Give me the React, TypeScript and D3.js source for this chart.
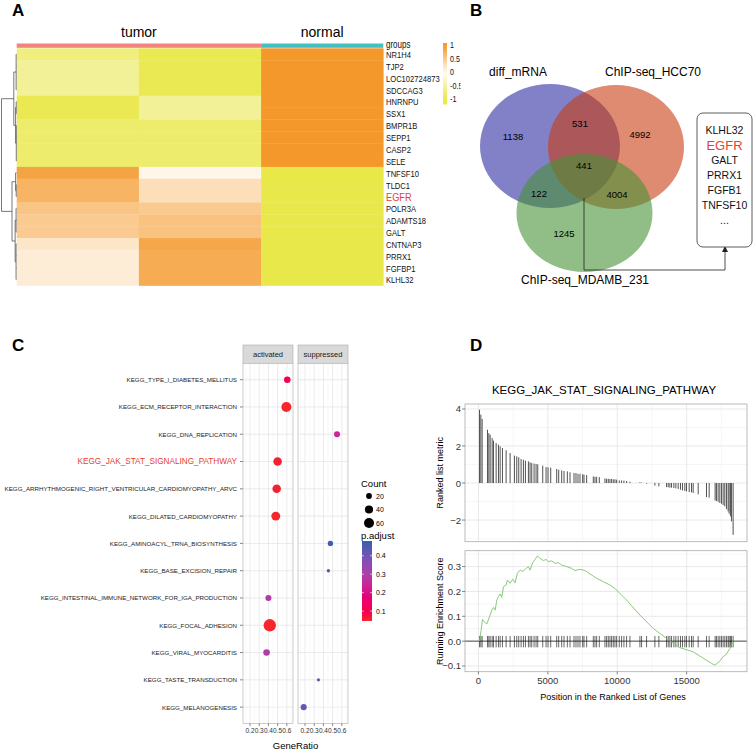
import React from 'react';
import * as d3 from 'd3';

const SANS = "'Liberation Sans', Arial, Helvetica, sans-serif";

// ---- panel A: heatmap ----
const heatGenes = ['NR1H4', 'TJP2', 'LOC102724873', 'SDCCAG3', 'HNRNPU', 'SSX1', 'BMPR1B', 'SEPP1', 'CASP2', 'SELE',
  'TNFSF10', 'TLDC1', 'EGFR', 'POLR3A', 'ADAMTS18', 'GALT', 'CNTNAP3', 'PRRX1', 'FGFBP1', 'KLHL32'];
const tumorA = [-0.7, -0.55, -0.55, -0.55, -0.95, -0.95, -0.8, -0.8, -0.8, -0.8, 0.88, 0.72, 0.72, 0.55, 0.5, 0.5, 0.22, 0.15, 0.15, 0.15];
const tumorB = [-0.95, -0.95, -0.95, -0.95, -0.55, -0.55, -0.8, -0.8, -0.8, -0.8, 0.06, 0.3, 0.3, 0.5, 0.58, 0.58, 0.85, 0.8, 0.8, 0.8];
const normalV = [1, 1, 1, 1, 1, 1, 1, 1, 1, 1, -1, -1, -1, -1, -1, -1, -1, -1, -1, -1];
const heatColumns = [tumorA, tumorB, normalV];
const heatGroups = ['tumor', 'tumor', 'normal'];
const heatLegendTicks = [1, 0.5, 0, -0.5, -1];

type TreeNode = { h: number; kids?: TreeNode[]; gene?: string };
const leaf = (g: string): TreeNode => ({ h: 0, gene: g });
const rowTree: TreeNode = {
  h: 10, kids: [
    { h: 1.8, kids: [
      { h: 0.25, kids: ['NR1H4', 'TJP2', 'LOC102724873', 'SDCCAG3'].map(leaf) },
      { h: 0.6, kids: [
        { h: 0.2, kids: ['HNRNPU', 'SSX1'].map(leaf) },
        { h: 0.15, kids: ['BMPR1B', 'SEPP1', 'CASP2', 'SELE'].map(leaf) },
      ] },
    ] },
    { h: 3, kids: [
      { h: 0.6, kids: [leaf('TNFSF10'), { h: 0.2, kids: ['TLDC1', 'EGFR'].map(leaf) }] },
      { h: 0.9, kids: [
        { h: 0.3, kids: ['POLR3A', 'ADAMTS18', 'GALT'].map(leaf) },
        { h: 0.3, kids: ['CNTNAP3', 'PRRX1', 'FGFBP1', 'KLHL32'].map(leaf) },
      ] },
    ] },
  ],
};

// ---- panel B: venn ----
const vennSets = ['diff_mRNA', 'ChIP-seq_HCC70', 'ChIP-seq_MDAMB_231'];
const vennCounts = [1138, 531, 4992, 441, 122, 4004, 1245];
const boxGenes = ['KLHL32', 'EGFR', 'GALT', 'PRRX1', 'FGFB1', 'TNFSF10', '...'];

// ---- panel C: dot plot ----
const pathways = ['KEGG_TYPE_I_DIABETES_MELLITUS', 'KEGG_ECM_RECEPTOR_INTERACTION', 'KEGG_DNA_REPLICATION',
  'KEGG_JAK_STAT_SIGNALING_PATHWAY', 'KEGG_ARRHYTHMOGENIC_RIGHT_VENTRICULAR_CARDIOMYOPATHY_ARVC',
  'KEGG_DILATED_CARDIOMYOPATHY', 'KEGG_AMINOACYL_TRNA_BIOSYNTHESIS', 'KEGG_BASE_EXCISION_REPAIR',
  'KEGG_INTESTINAL_IMMUNE_NETWORK_FOR_IGA_PRODUCTION', 'KEGG_FOCAL_ADHESION', 'KEGG_VIRAL_MYOCARDITIS',
  'KEGG_TASTE_TRANSDUCTION', 'KEGG_MELANOGENESIS'];
const pathwayGroup = ['activated', 'activated', 'suppressed', 'activated', 'activated', 'activated', 'suppressed',
  'suppressed', 'activated', 'activated', 'activated', 'suppressed', 'suppressed'];
const geneRatio = [0.605, 0.595, 0.548, 0.5, 0.49, 0.48, 0.476, 0.454, 0.4, 0.415, 0.38, 0.346, 0.186];
const geneCount = [26, 60, 22, 44, 44, 48, 17, 7, 22, 92, 26, 7, 22];
const pAdjust = [0.12, 0.05, 0.25, 0.06, 0.06, 0.05, 0.47, 0.45, 0.29, 0.05, 0.3, 0.38, 0.41];
const facets = ['activated', 'suppressed'];
const ratioTicks = [0.2, 0.3, 0.4, 0.5, 0.6];
const countBreaks = [20, 40, 60];
const padjBreaks = [0.1, 0.2, 0.3, 0.4];

// ---- panel D: GSEA ----
const hitPos = [74, 170, 266, 650, 746, 842, 986, 1082, 1273, 1441, 1561, 1729, 1993, 2280, 2592, 2760, 2904, 3072,
  3239, 3383, 3599, 3719, 3839, 4007, 4151, 4271, 4631, 4870, 5014, 5206, 5638, 5782, 5997, 6165, 6405, 6597, 6884,
  7028, 7172, 7316, 7508, 7604, 7796, 8275, 8395, 8515, 8707, 9115, 9235, 9355, 9475, 9595, 9715, 9835, 9955, 10146,
  10314, 10482, 10674, 10914, 11634, 11754, 12114, 12713, 13001, 13553, 13673, 13793, 13913, 14080, 14224, 14392,
  14560, 14704, 14872, 14992, 15184, 15352, 15472, 15832, 16431, 16623, 17054, 17150, 17270, 17390, 17510, 17630,
  17750, 17870, 17990, 18062, 18158, 18230, 18350];
const hitMetric = [3.96, 3.7, 3.46, 2.88, 2.7, 2.61, 2.43, 2.29, 2.16, 2.07, 1.98, 1.89, 1.77, 1.62, 1.48, 1.44, 1.39,
  1.3, 1.26, 1.21, 1.17, 1.12, 1.08, 1.05, 1.03, 1.01, 0.94, 0.86, 0.85, 0.83, 0.76, 0.72, 0.68, 0.65, 0.63, 0.58, 0.54,
  0.54, 0.5, 0.5, 0.47, 0.45, 0.43, 0.36, 0.34, 0.34, 0.32, 0.25, 0.23, 0.23, 0.22, 0.22, 0.2, 0.2, 0.18, 0.14, 0.14,
  0.13, 0.11, 0.07, 0.04, 0.02, -0.04, -0.14, -0.18, -0.22, -0.23, -0.25, -0.25, -0.27, -0.29, -0.32, -0.36, -0.4,
  -0.43, -0.45, -0.49, -0.5, -0.54, -0.61, -0.76, -0.79, -0.94, -0.97, -1.01, -1.08, -1.12, -1.19, -1.26, -1.41,
  -1.53, -1.66, -1.8, -2.07, -2.8];
const esPos = [74, 194, 290, 410, 602, 794, 962, 1082, 1201, 1321, 1441, 1561, 1681, 1801, 1993, 2089, 2280, 2472,
  2640, 2808, 3000, 3192, 3359, 3599, 3719, 3911, 4079, 4247, 4438, 4678, 4870, 5038, 5278, 5518, 5757, 5997, 6357,
  6717, 6956, 7316, 7556, 7796, 8156, 8515, 8995, 9475, 9835, 10674, 11633, 12593, 13552, 14511, 15470, 16430, 17029,
  17341, 17629, 17869, 18109, 18349];
const esVal = [0, 0.044, 0.087, 0.078, 0.069, 0.098, 0.125, 0.136, 0.125, 0.165, 0.179, 0.19, 0.176, 0.219, 0.226,
  0.246, 0.233, 0.249, 0.235, 0.273, 0.286, 0.28, 0.289, 0.3, 0.286, 0.316, 0.329, 0.343, 0.333, 0.324, 0.329, 0.32,
  0.323, 0.313, 0.316, 0.306, 0.3, 0.293, 0.284, 0.289, 0.286, 0.28, 0.266, 0.253, 0.239, 0.226, 0.212, 0.165, 0.105,
  0.051, 0.011, -0.026, -0.043, -0.077, -0.097, -0.083, -0.063, -0.052, -0.03, 0.004];
const posTicks = [0, 5000, 10000, 15000];
const metricTicks = [-2, 0, 2, 4];
const esTicks = [-0.1, 0, 0.1, 0.2, 0.3];

const PanelLabel = ({ x, y, t }: { x: number; y: number; t: string }) => (
  <text x={x} y={y} fontSize={17} fontWeight="bold" fontFamily={SANS}>{t}</text>
);

// condensed text (no narrow font installed, so squeeze horizontally)
const Narrow = ({ x, y, size, fill, children }: { x: number; y: number; size: number; fill?: string; children: any }) => (
  <text transform={`translate(${x},${y}) scale(0.8,1)`} dominantBaseline="central" fontSize={size}
    fill={fill ?? '#111'} fontFamily={SANS}>{children}</text>
);

function PanelA() {
  const x = d3.scaleBand<number>().domain(d3.range(heatColumns.length)).range([16.7, 383.3]);
  const y = d3.scaleBand<string>().domain(heatGenes).range([48.3, 285.5]);
  const color = d3.scaleLinear<string>().domain([-1, 0, 1]).range(['#E9E84A', '#FFFCF4', '#F4982B']).clamp(true);
  const hx = d3.scaleLinear().domain([rowTree.h, 0]).range([1.5, 16.5]);

  const root = d3.hierarchy<TreeNode>(rowTree, (d) => d.kids);
  const ny = new Map<any, number>();
  root.eachAfter((n) => {
    if (!n.children) ny.set(n, (y(n.data.gene!) ?? 0) + y.bandwidth() / 2);
    else {
      const ys = n.children.map((c) => ny.get(c)!);
      ny.set(n, (d3.min(ys)! + d3.max(ys)!) / 2);
    }
  });
  const treeLines: string[] = [];
  root.each((n) => {
    if (!n.children) return;
    const xx = hx(n.data.h);
    const ys = n.children.map((c) => ny.get(c)!);
    treeLines.push(`M${xx},${d3.min(ys)}V${d3.max(ys)}`);
    n.children.forEach((c) => treeLines.push(`M${xx},${ny.get(c)}H${hx(c.data.h)}`));
  });

  const groupSpans = d3.groups(d3.range(heatGroups.length), (i) => heatGroups[i]).map(([g, idx]) => ({
    g, x0: x(idx[0])!, x1: x(idx[idx.length - 1])! + x.bandwidth(),
  }));
  const groupColor: Record<string, string> = { tumor: '#F2847E', normal: '#44C0C2' };

  const ly = d3.scaleLinear().domain([1, -1]).range([45.5, 99.5]);
  const legTop = 43, legBot = 104.5;

  return (
    <g clipPath="url(#clipA)">
      <defs>
        <clipPath id="clipA"><rect x={0} y={0} width={460.5} height={330} /></clipPath>
        <linearGradient id="heatLeg" x1="0" y1="0" x2="0" y2="1">
          {d3.range(0, 1.0001, 0.1).map((t) => (
            <stop key={t} offset={t} stopColor={color(ly.invert(legTop + t * (legBot - legTop)))} />
          ))}
        </linearGradient>
      </defs>
      <PanelLabel x={12} y={16} t="A" />
      {groupSpans.map((s) => (
        <g key={s.g}>
          <text x={(s.x0 + s.x1) / 2} y={37} textAnchor="middle" fontSize={14} fontFamily={SANS}>{s.g}</text>
          <rect x={s.x0} y={43.5} width={s.x1 - s.x0} height={4.3} fill={groupColor[s.g]} />
        </g>
      ))}
      {heatColumns.map((col, ci) =>
        col.map((v, ri) => (
          <rect key={`${ci}-${ri}`} x={x(ci)} y={y(heatGenes[ri])} width={x.bandwidth() + 0.3}
            height={y.bandwidth() + 0.3} fill={color(v)} />
        ))
      )}
      <Narrow x={386} y={45} size={10}>groups</Narrow>
      {heatGenes.map((g) => (
        <Narrow key={g} x={386} y={y(g)! + y.bandwidth() / 2 + 0.5} size={g === 'EGFR' ? 11.5 : 9.5}
          fill={g === 'EGFR' ? '#E8412F' : '#111'}>{g}</Narrow>
      ))}
      <path d={treeLines.join('')} stroke="#555" strokeWidth={0.8} fill="none" />
      <rect x={443} y={legTop} width={4} height={legBot - legTop} fill="url(#heatLeg)" />
      {heatLegendTicks.map((t) => (
        <Narrow key={t} x={450} y={ly(t)} size={9}>{t}</Narrow>
      ))}
    </g>
  );
}

function PanelB() {
  const ell = [
    { cx: 550, cy: 146, rx: 70, ry: 62, fill: 'rgb(46,44,160)' },
    { cx: 616, cy: 147, rx: 68, ry: 62, fill: 'rgb(200,62,20)' },
    { cx: 584.5, cy: 213, rx: 68, ry: 59, fill: 'rgb(70,146,54)' },
  ];
  const setLabelPos = [[518, 72], [653, 72], [585, 280]];
  const countPos = [[513, 136], [580, 123], [640, 134], [584, 165], [539, 193], [617, 194], [564, 233]];
  const box = { x: 697, y: 113, w: 55, h: 134 };
  const ty = d3.scalePoint<number>().domain(d3.range(boxGenes.length)).range([130, 220]);
  return (
    <g fontFamily={SANS}>
      <PanelLabel x={470} y={16} t="B" />
      {ell.map((e, i) => (
        <ellipse key={i} cx={e.cx} cy={e.cy} rx={e.rx} ry={e.ry} fill={e.fill} fillOpacity={0.6} />
      ))}
      {vennSets.map((s, i) => (
        <text key={s} x={setLabelPos[i][0]} y={setLabelPos[i][1]} textAnchor="middle" dominantBaseline="central" fontSize={12}>{s}</text>
      ))}
      {vennCounts.map((c, i) => (
        <text key={i} x={countPos[i][0]} y={countPos[i][1]} textAnchor="middle" dominantBaseline="central" fontSize={9.5}>{c}</text>
      ))}
      <path d="M584,198V270H725V251" fill="none" stroke="#222" strokeWidth={0.8} />
      <path d="M722,252L725,246L728,252Z" fill="#222" />
      <rect x={box.x} y={box.y} width={box.w} height={box.h} rx={6} fill="#fff" stroke="#333" strokeWidth={0.8} />
      {boxGenes.map((g, i) => (
        <text key={g} x={box.x + box.w / 2} y={ty(i)} textAnchor="middle" dominantBaseline="central"
          fontSize={g === 'EGFR' ? 13 : 10.5} fill={g === 'EGFR' ? '#E8412F' : '#111'}>{g}</text>
      ))}
    </g>
  );
}

function PanelC() {
  const y = d3.scalePoint<string>().domain(pathways).range([363.3, 723.5]).padding(0.6);
  const facetX: Record<string, [number, number]> = { activated: [243, 293], suppressed: [298, 348] };
  const mkX = (f: string) => d3.scaleLinear().domain([0.124, 0.667]).range(facetX[f]);
  const r = d3.scaleSqrt().domain([0, 70]).range([0, 5.4]);
  const col = d3.scaleLinear<string>().domain([0.046, 0.48]).range(['#F52A2A', '#3A5CAC']).interpolate(d3.interpolateHcl);
  const minor = d3.range(0.15, 0.67, 0.1);
  const cb = { x: 362, y0: 541, y1: 621 };
  const cby = d3.scaleLinear().domain([0.046, 0.48]).range([cb.y1, cb.y0]);
  return (
    <g fontFamily={SANS}>
      <PanelLabel x={12} y={351} t="C" />
      <defs>
        <linearGradient id="padjLeg" x1="0" y1="1" x2="0" y2="0">
          {d3.range(0, 1.0001, 0.1).map((t) => (
            <stop key={t} offset={t} stopColor={col(0.046 + t * (0.48 - 0.046))} />
          ))}
        </linearGradient>
      </defs>
      {pathways.map((p) => (
        <g key={p}>
          <text x={237} y={y(p)} textAnchor="end" dominantBaseline="central"
            fontSize={p === 'KEGG_JAK_STAT_SIGNALING_PATHWAY' ? 8.2 : 6.2}
            fill={p === 'KEGG_JAK_STAT_SIGNALING_PATHWAY' ? '#E8412F' : '#222'}>{p}</text>
          <line x1={240} x2={243} y1={y(p)} y2={y(p)} stroke="#333" strokeWidth={0.6} />
        </g>
      ))}
      {facets.map((f) => {
        const x = mkX(f);
        const [x0, x1] = facetX[f];
        return (
          <g key={f}>
            <rect x={x0} y={345} width={x1 - x0} height={18.3} fill="#D9D9D9" stroke="#AAA" strokeWidth={0.6} />
            <text x={(x0 + x1) / 2} y={354.2} textAnchor="middle" dominantBaseline="central" fontSize={7.5} fill="#1A1A1A">{f}</text>
            <rect x={x0} y={363.3} width={x1 - x0} height={360.2} fill="#fff" />
            {minor.map((m) => (
              <line key={m} x1={x(m)} x2={x(m)} y1={363.3} y2={723.5} stroke="#F2F2F2" strokeWidth={0.5} />
            ))}
            {ratioTicks.map((t) => (
              <line key={t} x1={x(t)} x2={x(t)} y1={363.3} y2={723.5} stroke="#E3E3E3" strokeWidth={0.7} />
            ))}
            {pathways.map((p) => (
              <line key={p} x1={x0} x2={x1} y1={y(p)} y2={y(p)} stroke="#E3E3E3" strokeWidth={0.7} />
            ))}
            {pathways.map((p, i) => pathwayGroup[i] === f ? (
              <circle key={p} cx={x(geneRatio[i])} cy={y(p)} r={r(geneCount[i])} fill={col(pAdjust[i])} />
            ) : null)}
            <rect x={x0} y={363.3} width={x1 - x0} height={360.2} fill="none" stroke="#AAA" strokeWidth={0.6} />
            {ratioTicks.map((t) => (
              <g key={t}>
                <line x1={x(t)} x2={x(t)} y1={723.5} y2={726} stroke="#333" strokeWidth={0.6} />
                <text x={x(t)} y={730.5} textAnchor="middle" dominantBaseline="central" fontSize={6.5} fill="#333">{t}</text>
              </g>
            ))}
          </g>
        );
      })}
      <text x={295.5} y={745.5} textAnchor="middle" dominantBaseline="central" fontSize={9.5}>GeneRatio</text>
      <text x={361} y={483} dominantBaseline="central" fontSize={9.5}>Count</text>
      {countBreaks.map((c, i) => (
        <g key={c}>
          <circle cx={369} cy={496 + i * 13.5} r={r(c)} fill="#000" />
          <text x={376} y={496 + i * 13.5} dominantBaseline="central" fontSize={7}>{c}</text>
        </g>
      ))}
      <text x={361} y={535} dominantBaseline="central" fontSize={9.5}>p.adjust</text>
      <rect x={cb.x} y={cb.y0} width={10} height={cb.y1 - cb.y0} fill="url(#padjLeg)" />
      {padjBreaks.map((b) => (
        <g key={b}>
          <line x1={cb.x} x2={cb.x + 2} y1={cby(b)} y2={cby(b)} stroke="#fff" strokeWidth={0.6} />
          <line x1={cb.x + 8} x2={cb.x + 10} y1={cby(b)} y2={cby(b)} stroke="#fff" strokeWidth={0.6} />
          <text x={376} y={cby(b)} dominantBaseline="central" fontSize={7}>{b}</text>
        </g>
      ))}
    </g>
  );
}

function PanelD() {
  const x = d3.scaleLinear().domain([-970, 19350]).range([465, 747]);
  const yTop = d3.scaleLinear().domain([-3.17, 4.27]).range([541.7, 404]);
  const yBot = d3.scaleLinear().domain([-0.123, 0.364]).range([671.7, 550.7]);
  const xMinor = [2500, 7500, 12500, 17500];
  const fmt = d3.format('.1f');
  const esLine = d3.line<number>().x((_, i) => x(esPos[i])).y((v) => yBot(v));
  const grid = (yS: d3.ScaleLinear<number, number>, major: number[], minorT: number[]) => (
    <g>
      {minorT.map((t) => <line key={'m' + t} x1={465} x2={747} y1={yS(t)} y2={yS(t)} stroke="#F0F0F0" strokeWidth={0.6} />)}
      {xMinor.map((t) => <line key={'xm' + t} x1={x(t)} x2={x(t)} y1={yS.range()[1]} y2={yS.range()[0]} stroke="#F0F0F0" strokeWidth={0.6} />)}
      {major.map((t) => <line key={'M' + t} x1={465} x2={747} y1={yS(t)} y2={yS(t)} stroke="#E0E0E0" strokeWidth={0.7} />)}
      {posTicks.map((t) => <line key={'xM' + t} x1={x(t)} x2={x(t)} y1={yS.range()[1]} y2={yS.range()[0]} stroke="#E0E0E0" strokeWidth={0.7} />)}
    </g>
  );
  return (
    <g fontFamily={SANS}>
      <PanelLabel x={470} y={351} t="D" />
      <text x={604} y={390} textAnchor="middle" dominantBaseline="central" fontSize={11.5}>KEGG_JAK_STAT_SIGNALING_PATHWAY</text>
      {grid(yTop, metricTicks, [-3, -1, 1, 3])}
      {hitPos.map((p, i) => (
        <line key={p} x1={x(p)} x2={x(p)} y1={yTop(0)} y2={yTop(hitMetric[i])} stroke="#333" strokeWidth={0.85} />
      ))}
      <rect x={465} y={404} width={282} height={137.7} fill="none" stroke="#AAA" strokeWidth={0.8} />
      {metricTicks.map((t) => (
        <g key={t}>
          <line x1={462} x2={465} y1={yTop(t)} y2={yTop(t)} stroke="#333" strokeWidth={0.6} />
          <text x={461} y={yTop(t)} textAnchor="end" dominantBaseline="central" fontSize={9.5} fill="#333">{d3.format('d')(t)}</text>
        </g>
      ))}
      <text transform={`translate(440,${yTop(0.55)}) rotate(-90)`} textAnchor="middle" dominantBaseline="central" fontSize={9}>Ranked list metric</text>

      {grid(yBot, esTicks, [-0.05, 0.05, 0.15, 0.25, 0.35])}
      <line x1={465} x2={747} y1={yBot(0)} y2={yBot(0)} stroke="#222" strokeWidth={0.8} />
      {hitPos.map((p) => (
        <line key={p} x1={x(p)} x2={x(p)} y1={yBot(-0.025)} y2={yBot(0.021)} stroke="#000" strokeOpacity={0.7} strokeWidth={0.85} />
      ))}
      <path d={esLine(esVal) ?? ''} fill="none" stroke="#7DC46B" strokeWidth={0.9} />
      <rect x={465} y={550.7} width={282} height={121} fill="none" stroke="#AAA" strokeWidth={0.8} />
      {esTicks.map((t) => (
        <g key={t}>
          <line x1={462} x2={465} y1={yBot(t)} y2={yBot(t)} stroke="#333" strokeWidth={0.6} />
          <text x={461} y={yBot(t)} textAnchor="end" dominantBaseline="central" fontSize={9.5} fill="#333">{fmt(t)}</text>
        </g>
      ))}
      <text transform={`translate(440,${yBot(0.12)}) rotate(-90)`} textAnchor="middle" dominantBaseline="central" fontSize={9}>Running Enrichment Score</text>
      {posTicks.map((t) => (
        <g key={t}>
          <line x1={x(t)} x2={x(t)} y1={671.7} y2={674.5} stroke="#333" strokeWidth={0.6} />
          <text x={x(t)} y={680} textAnchor="middle" dominantBaseline="central" fontSize={9.5} fill="#333">{t}</text>
        </g>
      ))}
      <text x={613} y={697} textAnchor="middle" dominantBaseline="central" fontSize={9}>Position in the Ranked List of Genes</text>
    </g>
  );
}

export default function App() {
  return (
    <svg width={753} height={753} style={{ position: 'absolute', left: 0, top: 0, background: '#fff' }}>
      <rect width={753} height={753} fill="#fff" />
      <PanelA />
      <PanelB />
      <PanelC />
      <PanelD />
    </svg>
  );
}
